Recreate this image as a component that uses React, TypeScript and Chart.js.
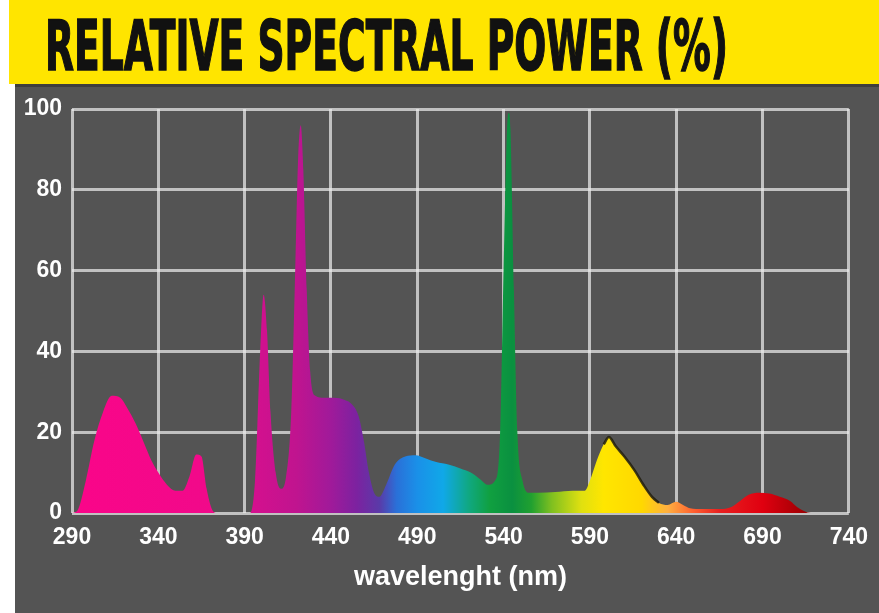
import React, { useEffect, useLayoutEffect, useRef } from 'react';
import { Chart, registerables } from 'chart.js';

Chart.register(...registerables);

// ---------- data ----------
const wavelengths = [
  290, 293, 298, 303, 308, 313, 318, 322, 327, 332, 336, 340, 345, 350, 354, 358, 362, 365, 368, 371, 374,
  393, 396, 399, 401, 403, 405, 408, 411, 414, 417, 419, 421, 422.5, 424, 426, 428, 431, 436, 442, 448, 452,
  456, 459, 462, 465, 468, 472, 477, 483, 489, 495, 501, 508, 515, 521, 526, 531, 535, 538, 540, 542, 543,
  544, 546, 548, 551, 555, 560, 570, 580, 587, 590, 594, 598, 601, 605, 610, 616, 621, 626, 630, 635, 640,
  644, 648, 655, 665, 672, 677, 682, 688, 694, 700, 706, 710, 714, 718, 740,
];
const power = [
  0, 0.5, 8, 18, 25, 29, 28.5, 26, 22, 17, 13, 10, 7, 5.5, 5.5, 9, 14.5, 14, 6, 1, 0,
  0, 8, 40, 54, 45, 25, 10, 6, 9, 25, 55, 88, 96, 85, 55, 35, 29, 28.5, 28.5, 28, 27,
  24, 18, 10, 5, 4, 7, 12, 14, 14.3, 13.5, 12.6, 12, 11, 10, 8.5, 7, 8, 20, 60, 95, 99,
  95, 55, 20, 8, 5, 5, 5.2, 5.5, 5.5, 8, 13, 17, 18.8, 16.5, 14, 10.5, 7, 4, 2.5, 2, 2.8,
  2, 1.2, 1, 1, 1.5, 3, 4.5, 5, 4.8, 4, 3, 1.5, 0.5, 0, 0,
];
const xTicks = [290, 340, 390, 440, 490, 540, 590, 640, 690, 740];
const yTicks = [0, 20, 40, 60, 80, 100];
const chartTitle = 'RELATIVE SPECTRAL POWER (%)';
const xAxisTitle = 'wavelenght (nm)';

// spectrum colour stops (wavelength, colour)
const stopNm = [290, 380, 395, 420, 440, 455, 468, 478, 490, 505, 520, 532, 545, 556, 568, 585, 598, 620, 635, 650, 665, 690, 720, 740];
const stopColor = [
  '#fa0589', '#f00a8a', '#d4108e', '#c0148f', '#a01a9a', '#7c22a0', '#5a3aa8', '#2a70d8', '#1a90e8',
  '#10a8e8', '#10a880', '#10a040', '#0a9040', '#20a030', '#80c020', '#e0e010', '#ffe600', '#ffd800',
  '#ffb040', '#ff6030', '#e82020', '#e00010', '#900000', '#800000',
];
// wavelength span of the dark outline on the yellow peak
const outlineFrom = 597;
const outlineTo = 631;

const X_MIN = 290;
const X_MAX = 740;
const GRID = 'rgba(235,235,235,0.72)';
const TICK_FONT = { family: "'Liberation Sans', Arial, sans-serif", size: 23, weight: 'bold' as const };

export default function App() {
  const canvasRef = useRef<HTMLCanvasElement | null>(null);
  const titleRef = useRef<HTMLSpanElement | null>(null);

  useLayoutEffect(() => {
    const el = titleRef.current;
    if (el) {
      el.style.transform = 'none';
      const w = el.getBoundingClientRect().width;
      if (w > 0) el.style.transform = `scaleX(${683 / w})`;
    }
  }, []);

  useEffect(() => {
    if (!canvasRef.current) return;
    const points = wavelengths.map((x, i) => ({ x, y: power[i] }));
    const outline = points.filter((p) => p.x >= outlineFrom && p.x <= outlineTo);
    const chart = new Chart(canvasRef.current, {
      type: 'line',
      data: {
        datasets: [
          {
            data: outline,
            fill: false,
            pointRadius: 0,
            borderWidth: 2.5,
            cubicInterpolationMode: 'monotone',
            borderColor: 'rgba(30,28,15,0.85)',
            order: 0,
          } as any,
          {
            data: points,
            fill: 'origin',
            pointRadius: 0,
            borderWidth: 0,
            cubicInterpolationMode: 'monotone',
            borderColor: 'rgba(0,0,0,0)',
            order: 1,
            backgroundColor: (ctx: any) => {
              const c = ctx.chart;
              const sx = c.scales?.x;
              if (!c.chartArea || !sx) return 'rgba(0,0,0,0)';
              const x0 = sx.getPixelForValue(X_MIN);
              const x1 = sx.getPixelForValue(X_MAX);
              const g = c.ctx.createLinearGradient(x0, 0, x1, 0);
              stopNm.forEach((nm, i) => g.addColorStop((nm - X_MIN) / (X_MAX - X_MIN), stopColor[i]));
              return g;
            },
          } as any,
        ],
      },
      options: {
        animation: false,
        responsive: false,
        layout: { padding: { top: 25, right: 28, left: 0, bottom: 0 } },
        plugins: { legend: { display: false }, tooltip: { enabled: false } },
        scales: {
          x: {
            type: 'linear',
            min: X_MIN,
            max: X_MAX,
            z: 1,
            afterBuildTicks: (s: any) => {
              s.ticks = xTicks.map((v) => ({ value: v }));
            },
            afterFit: (s: any) => {
              s.height = 100;
            },
            grid: { color: GRID, lineWidth: 3, drawTicks: false },
            border: { display: false },
            ticks: { color: '#ffffff', font: TICK_FONT, padding: 11, maxRotation: 0, autoSkip: false },
            title: {
              display: true,
              text: xAxisTitle,
              color: '#ffffff',
              font: { family: "'Liberation Sans', Arial, sans-serif", size: 27, weight: 'bold' },
              padding: { top: 0, bottom: 19 },
            },
          },
          y: {
            type: 'linear',
            min: 0,
            max: 100,
            z: 1,
            afterBuildTicks: (s: any) => {
              s.ticks = yTicks.map((v) => ({ value: v }));
            },
            afterFit: (s: any) => {
              s.width = 57;
            },
            grid: { color: GRID, lineWidth: 3, drawTicks: false },
            border: { display: false },
            ticks: { color: '#ffffff', font: TICK_FONT, padding: 10 },
          },
        },
      } as any,
    });
    return () => chart.destroy();
  }, []);

  return (
    <div
      style={{
        position: 'fixed',
        left: 0,
        top: 0,
        width: 879,
        height: 613,
        background: '#ffffff',
        overflow: 'hidden',
      }}
    >
      <div
        style={{
          position: 'absolute',
          left: 9,
          top: 0,
          width: 870,
          height: 84,
          background: '#ffe500',
        }}
      >
        <span
          ref={titleRef}
          style={{
            position: 'absolute',
            left: 36,
            top: 12,
            fontFamily: "'Liberation Sans Narrow', 'DejaVu Sans Condensed', sans-serif",
            fontWeight: 'bold',
            fontSize: 68.6,
            lineHeight: 1,
            whiteSpace: 'nowrap',
            color: '#111111',
            transformOrigin: 'left top',
            WebkitTextStroke: '1.5px #111111',
          }}
        >
          {chartTitle}
        </span>
      </div>
      <div
        style={{
          position: 'absolute',
          left: 15,
          top: 84,
          width: 864,
          height: 529,
          background: '#545454',
          borderTop: '3px solid #3e3e3e',
          boxSizing: 'border-box',
        }}
      />
      <canvas
        ref={canvasRef}
        width={864}
        height={529}
        style={{ position: 'absolute', left: 15, top: 84, width: 864, height: 529 }}
      />
    </div>
  );
}
